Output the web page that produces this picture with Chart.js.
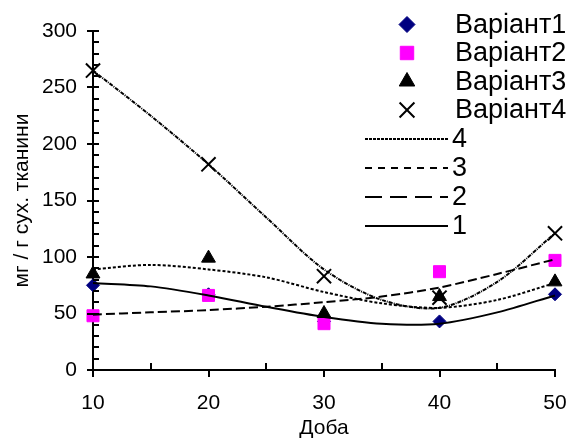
<!DOCTYPE html>
<html>
<head>
<meta charset="utf-8">
<script src="https://cdn.jsdelivr.net/npm/chart.js@4/dist/chart.umd.min.js"></script>
<style>
  body { margin: 0; background: #fff; }
</style>
</head>
<body>
<canvas id="chart" width="572" height="439"></canvas>
<script>
// доба (днi)
var days = [10, 20, 30, 40, 50]
// значення по варiантах
var variant1 = [75, 67, 43, 43, 67]
var variant2 = [48, 66, 41, 87, 97]
var variant3 = [85, 99, 50, 65, 78]
var variant4 = [265, 182, 83, 64, 121]

// лiнiї тренду, зчитанi з рисунка
var trendDays = [10, 15, 20, 25, 30, 35, 40, 45, 50]
var trend1 = [77, 74, 66, 56, 47, 41, 41, 51, 66]
var trend2 = [49, 51, 53, 56, 60, 65, 73, 85, 98]
var trend3 = [89, 93, 89, 82, 69, 59, 55, 62, 77]
var trend4 = [265, 225, 182, 135, 89, 62, 55, 78, 121]

var seriesNames = ["Варіант1", "Варіант2", "Варіант3", "Варіант4"]
var trendNames = ["4", "3", "2", "1"]

function pts(xs, ys) {
  return xs.map(function (x, i) { return { x: x, y: ys[i] } })
}

Chart.defaults.font.family = "'Liberation Sans', Arial, sans-serif"
Chart.defaults.color = "#000"

function trendSet(label, ys, dash, legendDash) {
  return {
    label: label,
    data: pts(trendDays, ys),
    showLine: true,
    tension: 0.3,
    pointRadius: 0,
    borderColor: "#000",
    borderWidth: 2,
    borderDash: dash,
    legendDash: legendDash,
    clip: false,
    order: 1,
  }
}

function markerSet(label, ys, style, r, legendR, color, bw, order) {
  return {
    label: label,
    data: pts(days, ys),
    pointStyle: style,
    pointRadius: r,
    legendRadius: legendR,
    backgroundColor: color,
    borderColor: color,
    borderWidth: bw,
    clip: false,
    order: order,
  }
}

var markerSets = [
  markerSet(seriesNames[0], variant1, "rectRot", 6.5, 8, "#000080", 1, 5),
  markerSet(seriesNames[1], variant2, "rect", 8.5, 9.5, "#ff00ff", 1, 4),
  markerSet(seriesNames[2], variant3, "triangle", 8, 9, "#000", 1, 3),
  markerSet(seriesNames[3], variant4, "crossRot", 10, 10.5, "#000", 2, 2),
]

var trendSets = [
  trendSet(trendNames[0], trend4, [4, 1, 1, 1], [3, 1]),
  trendSet(trendNames[1], trend3, [3, 2], [7, 6]),
  trendSet(trendNames[2], trend2, [9, 4], [17, 8]),
  trendSet(trendNames[3], trend1, [], []),
]

// засiчки на осях + легенда
var axisAndLegend = {
  id: "axisAndLegend",
  afterDraw: function (chart) {
    var ctx = chart.ctx
    var xs = chart.scales.x
    var ys = chart.scales.y
    var y0 = ys.getPixelForValue(0)
    var x0 = xs.getPixelForValue(10)
    ctx.save()
    ctx.strokeStyle = "#000"
    ctx.lineWidth = 2
    ctx.beginPath()
    for (var v = 10; v <= 50; v += 5) {
      var px = Math.round(xs.getPixelForValue(v))
      if (v % 10 === 0) { ctx.moveTo(px, y0); ctx.lineTo(px, y0 + 7) }
      else { ctx.moveTo(px, y0); ctx.lineTo(px, y0 - 7) }
    }
    for (var w = 0; w <= 300; w += 10) {
      var py = Math.round(ys.getPixelForValue(w))
      if (w % 50 === 0) { ctx.moveTo(x0 - 6, py); ctx.lineTo(x0 + 6, py) }
      else { ctx.moveTo(x0, py); ctx.lineTo(x0 + 6, py) }
    }
    ctx.stroke()

    // легенда
    ctx.font = "27px 'Liberation Sans', Arial, sans-serif"
    ctx.textBaseline = "middle"
    ctx.textAlign = "left"
    var rowY = [24.5, 53, 81.5, 110, 139, 168, 197, 226]
    markerSets.forEach(function (ds, i) {
      ctx.fillStyle = ds.backgroundColor
      ctx.strokeStyle = ds.borderColor
      ctx.lineWidth = ds.borderWidth
      Chart.helpers.drawPoint(ctx, { pointStyle: ds.pointStyle, radius: ds.legendRadius, borderWidth: ds.borderWidth }, 407, rowY[i])
      ctx.fillStyle = "#000"
      ctx.fillText(ds.label, 455, rowY[i] + 1)
    })
    trendSets.forEach(function (ds, i) {
      var y = rowY[4 + i]
      ctx.strokeStyle = "#000"
      ctx.lineWidth = 2
      ctx.setLineDash(ds.legendDash)
      ctx.beginPath()
      ctx.moveTo(365, y)
      ctx.lineTo(448, y)
      ctx.stroke()
      ctx.setLineDash([])
      ctx.fillStyle = "#000"
      ctx.fillText(ds.label, 452, y + 1)
    })
    ctx.restore()
  },
}

var chart = new Chart(document.getElementById("chart"), {
  type: "scatter",
  plugins: [axisAndLegend],
  data: { datasets: trendSets.concat(markerSets) },
  options: {
    responsive: false,
    animation: false,
    layout: { padding: { top: 31, right: 17, left: 0, bottom: 0 } },
    plugins: { legend: { display: false }, tooltip: { enabled: false } },
    scales: {
      x: {
        type: "linear",
        min: 10,
        max: 50,
        afterFit: function (s) {
          s.height = 69
          s.paddingLeft = 0
          s.paddingRight = 0
        },
        ticks: {
          stepSize: 5,
          autoSkip: false,
          maxRotation: 0,
          padding: 21,
          font: { size: 21 },
          callback: function (v) { return v % 10 === 0 ? v : "" },
        },
        grid: { drawOnChartArea: false, drawTicks: false },
        border: { color: "#000", width: 2 },
        title: { display: true, text: "Доба", font: { size: 21, lineHeight: 1 }, padding: { top: 0, bottom: 0 } },
      },
      y: {
        min: 0,
        max: 300,
        afterFit: function (s) { s.width = 93 },
        ticks: {
          stepSize: 10,
          autoSkip: false,
          padding: 16,
          font: { size: 21 },
          callback: function (v) { return v % 50 === 0 ? v : "" },
        },
        grid: { drawOnChartArea: false, drawTicks: false },
        border: { color: "#000", width: 2 },
        title: { display: true, text: "мг / г сух. тканини", font: { size: 21 }, padding: { top: 10, bottom: 0 } },
      },
    },
  },
})
</script>
</body>
</html>
